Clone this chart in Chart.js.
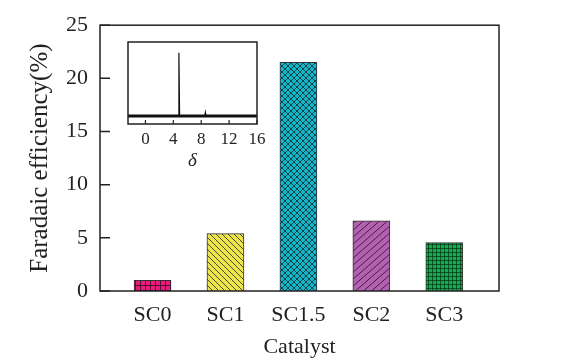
<!DOCTYPE html>
<html>
<head>
<meta charset="utf-8">
<script src="https://cdn.jsdelivr.net/npm/chart.js@4.4.1/dist/chart.umd.min.js"></script>
<style>
  html, body { margin: 0; padding: 0; background: #ffffff; }
  #wrap { position: relative; width: 576px; height: 361px; }
  #main { position: absolute; left: 0; top: 0; }
  #inset { position: absolute; left: 110px; top: 30px; }
</style>
</head>
<body>
<div id="wrap">
  <canvas id="main" width="576" height="361"></canvas>
  <canvas id="inset" width="175" height="145"></canvas>
</div>
<script>
// ---- data ----
const categories = ['SC0', 'SC1', 'SC1.5', 'SC2', 'SC3'];
const efficiency = [1.0, 5.4, 21.5, 6.6, 4.55];
const yTicks = [0, 5, 10, 15, 20, 25];
const insetShift = [-2.5, 4.7, 4.8, 4.9, 8.5, 8.6, 8.7, 16];
const insetIntensity = [0, 0, 1, 0, 0, 0.06, 0, 0];
const insetBaseline = [-2.5, 16];
const insetTicks = [0, 4, 8, 12, 16];

const SERIF = '"Liberation Serif", "Times New Roman", serif';
const INK = '#222222';

const mainCanvas = document.getElementById('main');
const mctx = mainCanvas.getContext('2d');

function makePattern(bg, line, w, h, draw) {
  const c = document.createElement('canvas');
  c.width = w; c.height = h;
  const g = c.getContext('2d');
  g.fillStyle = bg;
  g.fillRect(0, 0, w, h);
  g.strokeStyle = line;
  g.lineWidth = 0.9;
  draw(g, w, h);
  return mctx.createPattern(c, 'repeat');
}
function grid(g, w, h) {
  g.beginPath();
  g.moveTo(0.5, 0); g.lineTo(0.5, h);
  g.moveTo(0, 0.5); g.lineTo(w, 0.5);
  g.stroke();
}
function back(g, w, h) {
  g.beginPath();
  g.moveTo(-w, -h); g.lineTo(2 * w, 2 * h);
  g.moveTo(-w, 0); g.lineTo(w, 2 * h);
  g.moveTo(0, -h); g.lineTo(2 * w, h);
  g.stroke();
}
function fwd(g, w, h) {
  g.beginPath();
  g.moveTo(-w, 2 * h); g.lineTo(2 * w, -h);
  g.moveTo(-w, h); g.lineTo(w, -h);
  g.moveTo(0, 2 * h); g.lineTo(2 * w, 0);
  g.stroke();
}
const fills = [
  makePattern('#ec1a7e', 'rgba(40,10,25,0.85)', 5, 5, grid),
  makePattern('#ece64c', 'rgba(25,25,25,0.85)', 6, 6, back),
  makePattern('#12b6c6', 'rgba(20,30,35,0.85)', 6, 6, (g, w, h) => { back(g, w, h); fwd(g, w, h); }),
  makePattern('#b262ae', 'rgba(35,15,40,0.85)', 8, 7, fwd),
  makePattern('#14ac52', 'rgba(10,50,20,0.8)', 4, 4, grid)
];

// frame around the plot area plus inward tick marks
const framePlugin = {
  id: 'frame',
  afterDraw(chart, args, opts) {
    const a = chart.chartArea, c = chart.ctx;
    c.save();
    c.strokeStyle = INK;
    const spec = opts && opts.ticks;
    if (spec) {
      const sc = chart.scales[spec.scale];
      c.lineWidth = spec.width;
      c.beginPath();
      sc.ticks.forEach(t => {
        const p = sc.getPixelForValue(t.value);
        if (sc.isHorizontal()) {
          c.moveTo(p, a.bottom); c.lineTo(p, a.bottom - spec.length);
        } else {
          c.moveTo(a.left, p); c.lineTo(a.left + spec.length, p);
        }
      });
      c.stroke();
    }
    c.lineWidth = 1.5;
    c.strokeRect(a.left, a.top, a.right - a.left, a.bottom - a.top);
    c.restore();
  }
};

const noGrid = { display: false, drawTicks: false, tickLength: 0 };

new Chart(mctx, {
  type: 'bar',
  data: {
    datasets: [{
      data: categories.map((c, i) => ({ x: i, y: efficiency[i] })),
      backgroundColor: fills,
      borderColor: '#333333',
      borderWidth: 1,
      borderSkipped: 'bottom',
      barThickness: 37
    }]
  },
  options: {
    responsive: false,
    animation: false,
    devicePixelRatio: 1,
    layout: { padding: { left: 0, right: 77, top: 25, bottom: 0 } },
    plugins: {
      legend: { display: false },
      tooltip: { enabled: false },
      frame: { ticks: { scale: 'y', length: 10, width: 1.5 } }
    },
    scales: {
      x: {
        type: 'linear',
        offset: false,
        min: -0.72,
        max: 4.75,
        afterBuildTicks: s => { s.ticks = categories.map((c, i) => ({ value: i })); },
        afterFit: s => { s.height = 70; },
        grid: noGrid,
        border: { display: false },
        ticks: {
          callback: v => categories[v],
          font: { family: SERIF, size: 22 },
          color: INK,
          padding: 11,
          maxRotation: 0,
          autoSkip: false
        },
        title: {
          display: true,
          text: 'Catalyst',
          font: { family: SERIF, size: 22 },
          color: INK,
          padding: { top: 0, bottom: 1 }
        }
      },
      y: {
        min: 0,
        max: 25,
        afterBuildTicks: s => { s.ticks = yTicks.map(v => ({ value: v })); },
        afterFit: s => { s.width = 100; },
        grid: noGrid,
        border: { display: false },
        ticks: {
          font: { family: SERIF, size: 22 },
          color: INK,
          padding: 12
        },
        title: {
          display: true,
          text: 'Faradaic efficiency(%)',
          font: { family: SERIF, size: 25 },
          color: INK,
          padding: { top: 25, bottom: 0 }
        }
      }
    }
  },
  plugins: [framePlugin]
});

// ---- inset ----
const ictx = document.getElementById('inset').getContext('2d');
new Chart(ictx, {
  type: 'line',
  data: {
    datasets: [
      {
        data: insetBaseline.map(x => ({ x: x, y: 0 })),
        borderColor: '#111111',
        borderWidth: 3,
        pointRadius: 0,
        tension: 0
      },
      {
        data: insetShift.map((x, i) => ({ x: x, y: insetIntensity[i] })),
        borderColor: '#111111',
        borderWidth: 1.2,
        pointRadius: 0,
        tension: 0
      }
    ]
  },
  options: {
    responsive: false,
    animation: false,
    devicePixelRatio: 1,
    layout: { padding: { left: 18, right: 28, top: 12, bottom: 0 } },
    plugins: {
      legend: { display: false },
      tooltip: { enabled: false },
      frame: { ticks: { scale: 'x', length: 4, width: 1.2 } }
    },
    scales: {
      x: {
        type: 'linear',
        min: -2.5,
        max: 16,
        afterBuildTicks: s => { s.ticks = insetTicks.map(v => ({ value: v })); },
        afterFit: s => { s.height = 51; },
        grid: noGrid,
        border: { display: false },
        ticks: {
          font: { family: SERIF, size: 17 },
          color: INK,
          padding: 5,
          maxRotation: 0,
          autoSkip: false
        },
        title: {
          display: true,
          text: 'δ',
          font: { family: SERIF, size: 19, style: 'italic' },
          color: INK,
          padding: { top: 0, bottom: 3 }
        }
      },
      y: {
        display: false,
        min: -0.126,
        max: 1.17
      }
    }
  },
  plugins: [framePlugin]
});
</script>
</body>
</html>
